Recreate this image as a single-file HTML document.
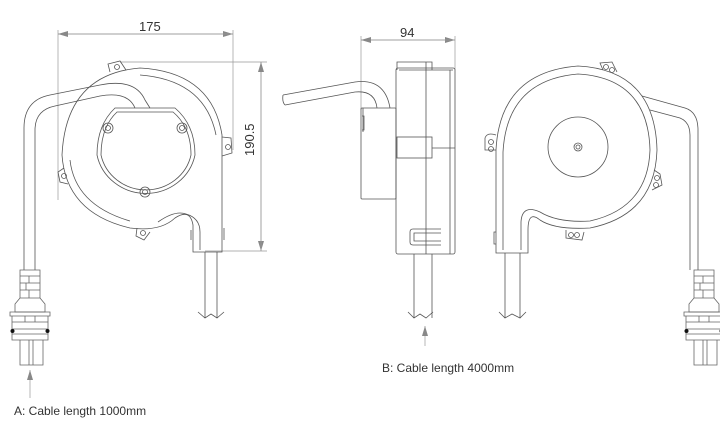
<!DOCTYPE html>
<html><head><meta charset="utf-8"><style>
html,body{margin:0;padding:0;background:#fff;}
svg{display:block}
text{font-family:"Liberation Sans",sans-serif;fill:#333;}
</style></head><body>
<svg width="720" height="430" viewBox="0 0 720 430" xmlns="http://www.w3.org/2000/svg">
<defs>
<marker id="ar" markerWidth="10" markerHeight="6" refX="10" refY="3" orient="auto" markerUnits="userSpaceOnUse">
<path d="M0,0 L10,3 L0,6 Z" fill="#888"/></marker>
<g id="conn" fill="none" stroke="#666" stroke-width="0.8">
<path d="M20,270 h20 v28 h-20 z M20,276 h20 M20,283 h20 M20,290 h20 M29,276 v7 M29,290 v8 M26,283 v7"/>
<path d="M20,298 L15,304 v8 h30 v-8 L40,298"/>
<path d="M10,312 h40 v4 h-40 z M12,316 h36 v24 h-36 z M12,322 h36 M12,329 h36 M12,334 h36 M25,316 v6 M35,316 v6"/>
<circle cx="12.5" cy="331" r="2" fill="#111" stroke="none"/><circle cx="47.5" cy="331" r="2" fill="#111" stroke="none"/>
<path d="M20,340 v25 h23 v-25 M29,340 v25 M33,340 v25"/>
</g>
</defs>
<g fill="none" stroke="#999" stroke-width="0.7">
<line x1="58" y1="30" x2="58" y2="200"/>
<line x1="233" y1="30" x2="233" y2="150"/>
<line x1="58" y1="34" x2="233" y2="34" marker-end="url(#ar)"/>
<line x1="233" y1="34" x2="58" y2="34" marker-end="url(#ar)"/>
<line x1="120" y1="62" x2="267" y2="62"/>
<line x1="205" y1="251" x2="267" y2="251"/>
<line x1="261" y1="62" x2="261" y2="251" marker-end="url(#ar)"/>
<line x1="261" y1="251" x2="261" y2="62" marker-end="url(#ar)"/>
<line x1="361" y1="36" x2="361" y2="110"/>
<line x1="455" y1="36" x2="455" y2="70"/>
<line x1="361" y1="40" x2="455" y2="40" marker-end="url(#ar)"/>
<line x1="455" y1="40" x2="361" y2="40" marker-end="url(#ar)"/>
<line x1="30" y1="398" x2="30" y2="370" marker-end="url(#ar)"/>
<line x1="425" y1="346" x2="425" y2="326" marker-end="url(#ar)"/>
</g>
<text x="139" y="31" font-size="13">175</text>
<text x="400" y="37" font-size="13">94</text>
<text transform="translate(254,156) rotate(-90)" font-size="13">190.5</text>
<text x="14" y="415" font-size="12">A: Cable length 1000mm</text>
<text x="382" y="372" font-size="12">B: Cable length 4000mm</text>

<g fill="none" stroke="#555" stroke-width="0.8">
<!-- LEFT VIEW -->
<path d="M24,270 V128 Q24,100 50,95 L100,85 Q135,78 145,100 L150,108"/>
<path d="M35,270 V130 Q35,110 55,106 L100,96 Q128,91 135,108"/>
<path d="M222,252 V135 Q212,72 140,68 Q66,74 62,155 Q66,213 130,228 Q160,232 175,218 Q190,208 193,225 V252 Z"/>
<path d="M216,135 Q205,80 140,75 M70,160 Q75,205 130,221 M158,222 Q175,210 186,214 Q200,218 200,232 V250"/>
<path d="M110,72 L108,64 L120,61 L126,70"/><circle cx="117" cy="67" r="2.5"/>
<path d="M64,168 L58,172 L60,182 L68,184"/><circle cx="64" cy="176" r="2.5"/>
<path d="M137,228 L136,236 L144,240 L150,232"/><circle cx="143" cy="233" r="2.5"/>
<path d="M222,137 L231,138 L232,153 L222,156"/><circle cx="228" cy="147" r="2.5"/>
<path d="M115,108 L175,108 Q195,125 195,155 A50,48 0 0 1 97,155 Q97,125 115,108 Z"/>
<path d="M117,112 L173,112 Q191,127 191,155 A46,44 0 0 1 101,155 Q101,127 117,112 Z"/>
<circle cx="108" cy="128" r="5"/><circle cx="108" cy="128" r="2.5"/>
<circle cx="182" cy="128" r="5"/><circle cx="182" cy="128" r="2.5"/>
<circle cx="145" cy="192" r="5"/><circle cx="145" cy="192" r="2.5"/>
<path d="M191,230 v10 M224,228 v12"/>
<path d="M205,252 V318 M217,252 V318 M198,312 L205,318 L211,314 L217,318 L224,312"/>
<use href="#conn"/>

<!-- MIDDLE VIEW -->
<rect x="396" y="68" width="59" height="186" rx="2"/>
<path d="M397,70 V62 H432 V70 M426,62 V254 M399,70 H453 M450,70 V254"/>
<rect x="361" y="108" width="35" height="91" rx="1"/>
<path d="M363,108 V132 M362,116 h2 v14 h-2"/>
<rect x="397" y="137" width="35" height="21"/>
<path d="M432,148 H455"/>
<path d="M441,229 H413 Q410,229 410,232 V242 Q410,245 413,245 H441 M441,233 H414 V241 H441"/>
<path d="M283,95 L355,82 Q385,78 390,108 M285,105 L355,92 Q375,90 377,108 M283,95 Q282,102 285,105"/>
<path d="M414,254 V318 M432,254 V318 M408,312 L414,318 L420,314 L426,318 L433,312"/>

<!-- RIGHT VIEW -->
<path d="M642,96 L685,108 Q698,112 698,130 V270"/>
<path d="M650,110 L680,118 Q690,122 690,135 V270"/>
<path d="M496,253 V150 Q500,72 578,66 Q655,70 657,150 Q655,215 590,228 Q555,230 540,220 Q528,210 528,230 V253 Z"/>
<path d="M503,250 V152 Q507,80 578,74 Q648,78 650,150 Q648,208 590,221 Q558,223 540,212 Q522,204 521,222 V250"/>
<path d="M496,150 H485 V138 Q487,132 496,135"/><circle cx="491" cy="142" r="2.5"/><circle cx="491" cy="149" r="2.5"/>
<path d="M603,70 L600,63 L612,62 L617,72"/><circle cx="606" cy="67" r="2.5"/><circle cx="612" cy="70" r="2.5"/>
<path d="M654,170 L660,174 L662,185 L652,190"/><circle cx="657" cy="178" r="2.5"/><circle cx="656" cy="185" r="2.5"/>
<path d="M566,230 L566,238 L582,240 L584,232"/><circle cx="571" cy="235" r="2.5"/><circle cx="577" cy="235" r="2.5"/>
<circle cx="578" cy="147" r="30"/><circle cx="578" cy="147" r="4"/><circle cx="578" cy="147" r="2"/>
<path d="M496,232 h-2 v12 h2"/>
<path d="M505,253 V318 M520,253 V318 M499,312 L505,318 L512,314 L520,318 L526,312"/>
<use href="#conn" transform="translate(674,0)"/>
</g>
</svg>
</body></html>
